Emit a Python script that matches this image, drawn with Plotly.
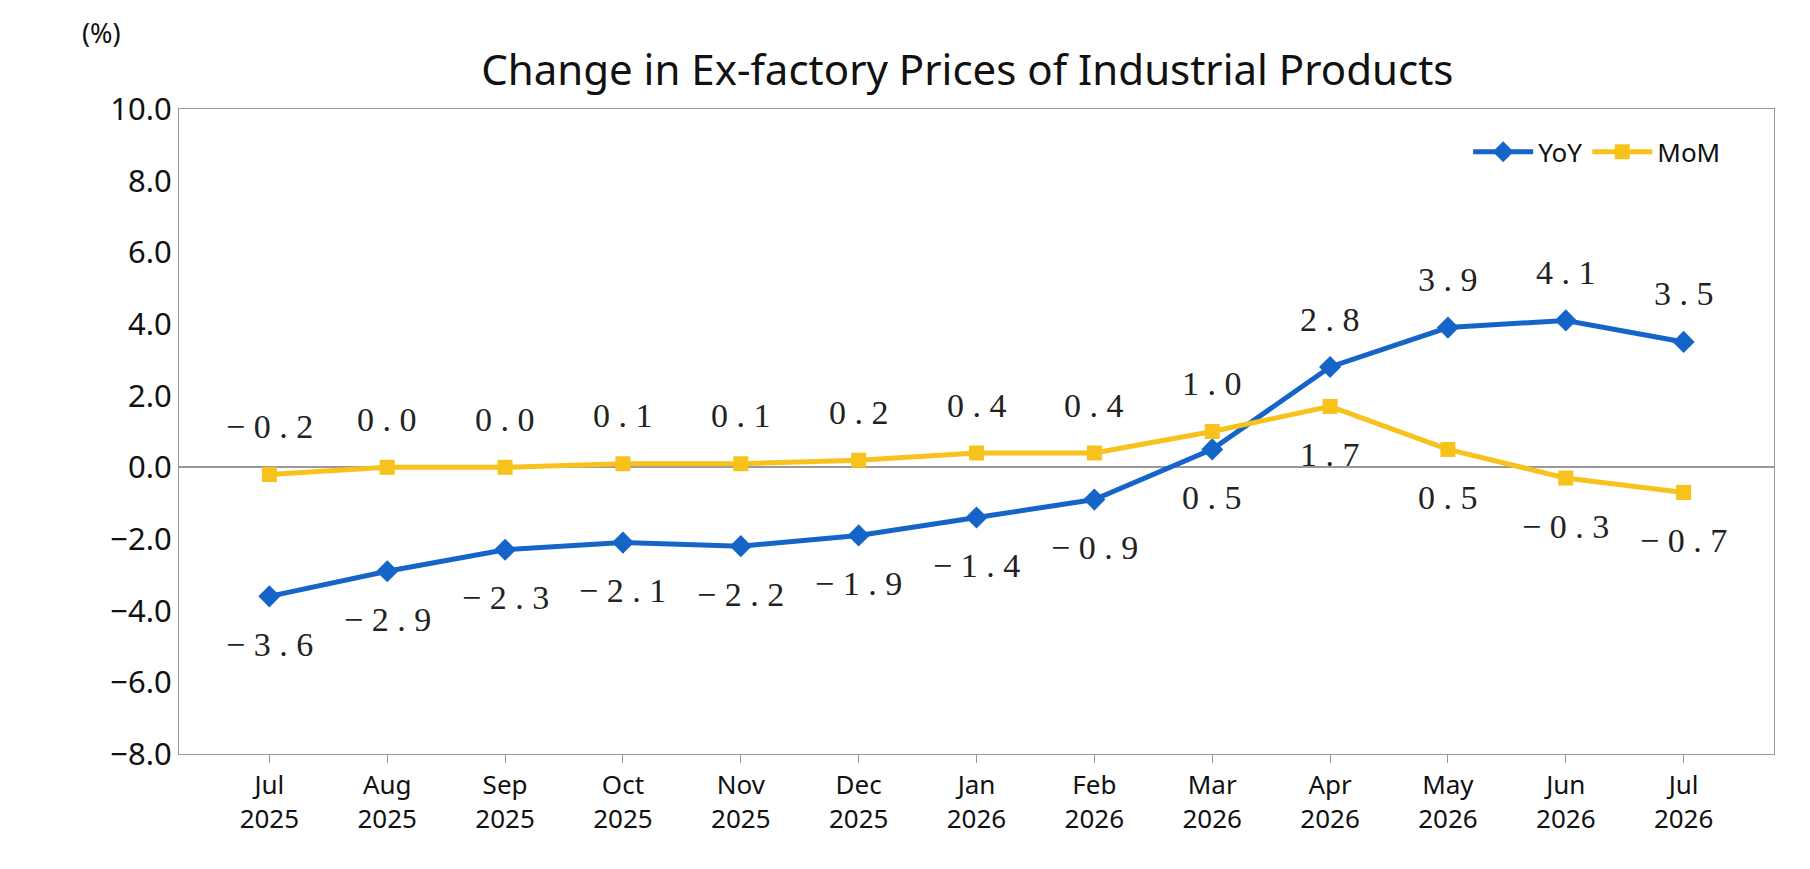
import plotly.graph_objects as go

months = ["Jul<br>2025", "Aug<br>2025", "Sep<br>2025", "Oct<br>2025", "Nov<br>2025", "Dec<br>2025",
          "Jan<br>2026", "Feb<br>2026", "Mar<br>2026", "Apr<br>2026", "May<br>2026", "Jun<br>2026", "Jul<br>2026"]
yoy = [-3.6, -2.9, -2.3, -2.1, -2.2, -1.9, -1.4, -0.9, 0.5, 2.8, 3.9, 4.1, 3.5]
mom = [-0.2, 0.0, 0.0, 0.1, 0.1, 0.2, 0.4, 0.4, 1.0, 1.7, 0.5, -0.3, -0.7]
yoy_above = [False] * 9 + [True] * 4
mom_above = [True] * 9 + [False] * 4

blue = "#1565C8"
yellow = "#F7C21B"
lab_font = dict(family="Liberation Serif", size=34, color="#222")


def fmt(v):
    # wide spacing like the original
    s = f"{v:.1f}".replace("-", "−")
    return " ".join(s)


fig = go.Figure()
fig.add_trace(go.Scatter(
    x=months, y=yoy, name="YoY", mode="lines+markers",
    line=dict(color=blue, width=5), marker=dict(symbol="diamond", size=17, color=blue),
))
fig.add_trace(go.Scatter(
    x=months, y=mom, name="MoM", mode="lines+markers",
    line=dict(color=yellow, width=5), marker=dict(symbol="square", size=15, color=yellow),
))

annots = []
for series, above in ((yoy, yoy_above), (mom, mom_above)):
    for m, v, up in zip(months, series, above):
        annots.append(dict(x=m, y=v, text=fmt(v), showarrow=False, font=lab_font,
                           yshift=48 if up else -48))
annots.append(dict(text="(%)", x=-0.062, y=1.15, xref="paper", yref="paper",
                   showarrow=False, font=dict(size=27)))

fig.update_layout(
    width=1810, height=869,
    paper_bgcolor="white", plot_bgcolor="white",
    margin=dict(l=171, r=44, t=101, b=123),
    font=dict(family="Noto Sans", size=28, color="#111"),
    title=dict(text="Change in Ex-factory Prices of Industrial Products", x=0.53, y=0.945,
               xanchor="center", font=dict(size=42, color="#111")),
    legend=dict(orientation="h", x=0.97, y=0.97, xanchor="right", yanchor="top",
                font=dict(size=26), bgcolor="rgba(0,0,0,0)", itemwidth=60),
    showlegend=True,
    annotations=annots,
)
fig.update_xaxes(showline=True, linecolor="#999", mirror=True, ticks="outside",
                 tickcolor="#999", ticklen=8, tickfont=dict(size=26), showgrid=False)
fig.update_yaxes(range=[-8, 10], dtick=2, tickformat=".1f", showline=True, linecolor="#999",
                 mirror=True, showgrid=False, zeroline=True, zerolinecolor="#999",
                 zerolinewidth=2, tickfont=dict(size=31))

fig.write_html("out.html")
